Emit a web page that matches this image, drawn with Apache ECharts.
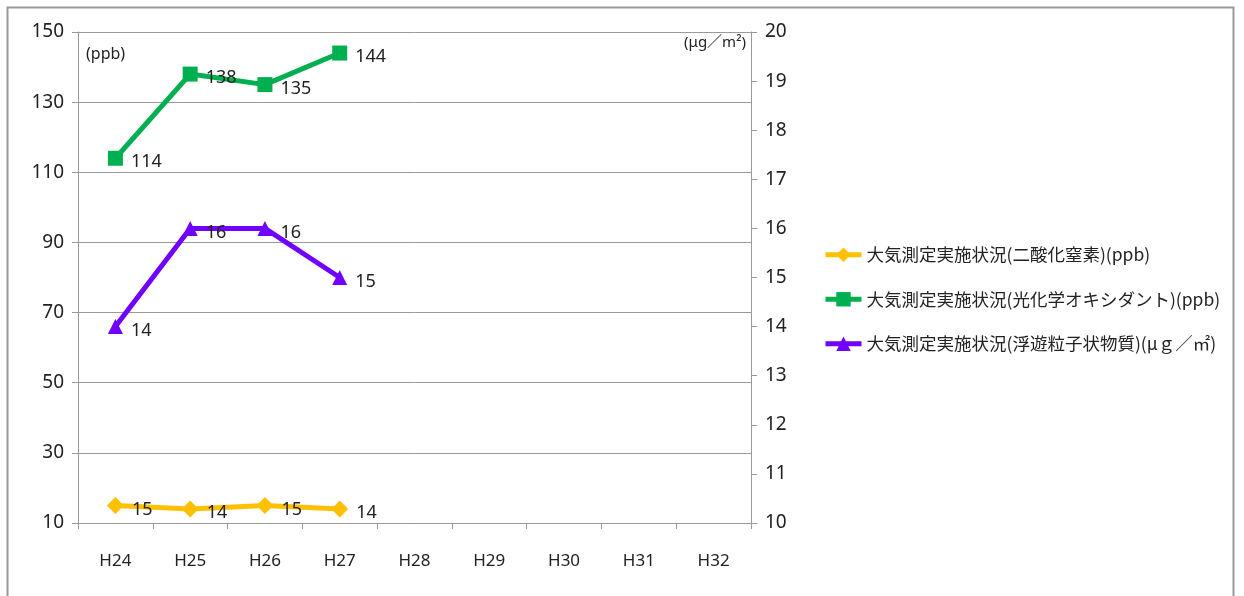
<!DOCTYPE html>
<html>
<head>
<meta charset="utf-8">
<script src="https://cdn.jsdelivr.net/npm/echarts@6/dist/echarts.min.js"></script>
<style>
  html, body { margin: 0; padding: 0; background: #fff; }
  #chart { width: 1244px; height: 596px; }
</style>
</head>
<body>
<div id="chart"></div>
<script>
// Fiscal years (Heisei)
const years = ['H24', 'H25', 'H26', 'H27', 'H28', 'H29', 'H30', 'H31', 'H32'];

// Nitrogen dioxide (ppb, left axis)
const no2 = [15, 14, 15, 14];
// Photochemical oxidants (ppb, left axis)
const ox = [114, 138, 135, 144];
// Suspended particulate matter (µg/㎡, right axis)
const spm = [14, 16, 16, 15];

const seriesNames = [
  '大気測定実施状況(二酸化窒素)(ppb)',
  '大気測定実施状況(光化学オキシダント)(ppb)',
  '大気測定実施状況(浮遊粒子状物質)(μｇ／㎡)'
];

const leftTicks = { min: 10, max: 150, interval: 20 };
const rightTicks = { min: 10, max: 20, interval: 1 };

const latin = "'Noto Sans', sans-serif";
const cjk = "'Noto Sans CJK JP', sans-serif";

const chart = echarts.init(document.getElementById('chart'), null, { renderer: 'canvas' });

function lineSeries(name, data, color, symbol, size, yIndex) {
  return {
    name: name,
    type: 'line',
    yAxisIndex: yIndex,
    data: data,
    symbol: symbol,
    symbolSize: size,
    showAllSymbol: true,
    lineStyle: { color: color, width: 5 },
    itemStyle: { color: color },
    label: {
      show: true,
      position: 'right',
      distance: 8,
      offset: [0, 4],
      color: '#222',
      fontFamily: latin,
      fontSize: 18
    },
    emphasis: { disabled: true },
    animation: false
  };
}

chart.setOption({
  animation: false,
  backgroundColor: '#fff',
  grid: { left: 78, right: 493, top: 32, bottom: 73, containLabel: false },
  legend: {
    orient: 'vertical',
    left: 818,
    top: 241,
    itemGap: 27,
    itemWidth: 36,
    itemHeight: 18,
    lineStyle: { width: 5 },
    textStyle: { color: '#222', fontFamily: cjk, fontSize: 17.5 },
    data: seriesNames
  },
  xAxis: {
    type: 'category',
    data: years,
    boundaryGap: true,
    axisLine: { lineStyle: { color: '#999', width: 1 } },
    axisTick: { show: true, length: 6, lineStyle: { color: '#999' } },
    axisLabel: { color: '#222', fontFamily: latin, fontSize: 17, margin: 30 },
    splitLine: { show: false }
  },
  yAxis: [
    {
      type: 'value',
      min: leftTicks.min, max: leftTicks.max, interval: leftTicks.interval,
      position: 'left',
      axisLine: { show: true, lineStyle: { color: '#999' } },
      axisTick: { show: true, length: 6, lineStyle: { color: '#999' } },
      axisLabel: { color: '#222', fontFamily: latin, fontSize: 19, margin: 14 },
      splitLine: { show: true, lineStyle: { color: '#999', width: 1 } }
    },
    {
      type: 'value',
      min: rightTicks.min, max: rightTicks.max, interval: rightTicks.interval,
      position: 'right',
      axisLine: { show: true, lineStyle: { color: '#999' } },
      axisTick: { show: true, length: 6, lineStyle: { color: '#999' } },
      axisLabel: { color: '#222', fontFamily: latin, fontSize: 19, margin: 14 },
      splitLine: { show: false }
    }
  ],
  series: [
    lineSeries(seriesNames[0], no2, '#FFC000', 'diamond', 17, 0),
    lineSeries(seriesNames[1], ox, '#00B050', 'rect', 15, 0),
    lineSeries(seriesNames[2], spm, '#7000FF', 'triangle', 15, 1)
  ],
  graphic: [
    {
      type: 'rect',
      silent: true,
      shape: { x: 7.5, y: 7.5, width: 1226, height: 600 },
      style: { fill: 'none', stroke: '#999', lineWidth: 2 }
    },
    {
      type: 'text',
      left: 86, top: 46,
      silent: true,
      style: { text: '(ppb)', fill: '#222', font: "16px 'Noto Sans', sans-serif" }
    },
    {
      type: 'text',
      left: 684, top: 35,
      silent: true,
      style: { text: '(μg／m²)', fill: '#222', font: "15px 'Noto Sans', 'Noto Sans CJK JP', sans-serif" }
    }
  ]
});
</script>
</body>
</html>
